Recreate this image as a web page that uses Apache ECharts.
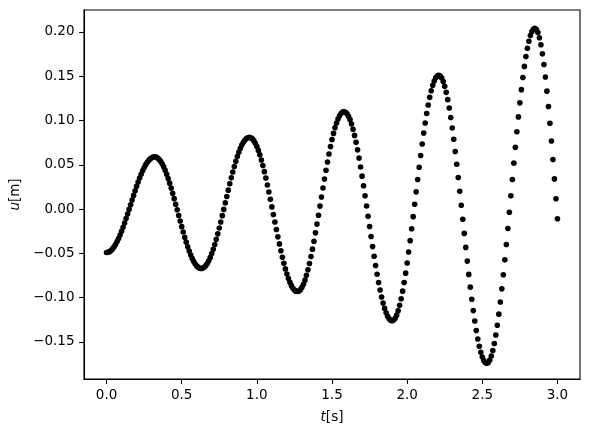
<!DOCTYPE html>
<html>
<head>
<meta charset="utf-8">
<script src="https://cdn.jsdelivr.net/npm/echarts@6/dist/echarts.min.js"></script>
<style>
html,body{margin:0;padding:0;background:#fff;}
#c{width:589px;height:435px;}
</style>
</head>
<body>
<div id="c"></div>
<script>
// time samples [s]
const t = [
0.00,0.01,0.02,0.03,0.04,0.05,0.06,0.07,0.08,0.09,
0.10,0.11,0.12,0.13,0.14,0.15,0.16,0.17,0.18,0.19,
0.20,0.21,0.22,0.23,0.24,0.25,0.26,0.27,0.28,0.29,
0.30,0.31,0.32,0.33,0.34,0.35,0.36,0.37,0.38,0.39,
0.40,0.41,0.42,0.43,0.44,0.45,0.46,0.47,0.48,0.49,
0.50,0.51,0.52,0.53,0.54,0.55,0.56,0.57,0.58,0.59,
0.60,0.61,0.62,0.63,0.64,0.65,0.66,0.67,0.68,0.69,
0.70,0.71,0.72,0.73,0.74,0.75,0.76,0.77,0.78,0.79,
0.80,0.81,0.82,0.83,0.84,0.85,0.86,0.87,0.88,0.89,
0.90,0.91,0.92,0.93,0.94,0.95,0.96,0.97,0.98,0.99,
1.00,1.01,1.02,1.03,1.04,1.05,1.06,1.07,1.08,1.09,
1.10,1.11,1.12,1.13,1.14,1.15,1.16,1.17,1.18,1.19,
1.20,1.21,1.22,1.23,1.24,1.25,1.26,1.27,1.28,1.29,
1.30,1.31,1.32,1.33,1.34,1.35,1.36,1.37,1.38,1.39,
1.40,1.41,1.42,1.43,1.44,1.45,1.46,1.47,1.48,1.49,
1.50,1.51,1.52,1.53,1.54,1.55,1.56,1.57,1.58,1.59,
1.60,1.61,1.62,1.63,1.64,1.65,1.66,1.67,1.68,1.69,
1.70,1.71,1.72,1.73,1.74,1.75,1.76,1.77,1.78,1.79,
1.80,1.81,1.82,1.83,1.84,1.85,1.86,1.87,1.88,1.89,
1.90,1.91,1.92,1.93,1.94,1.95,1.96,1.97,1.98,1.99,
2.00,2.01,2.02,2.03,2.04,2.05,2.06,2.07,2.08,2.09,
2.10,2.11,2.12,2.13,2.14,2.15,2.16,2.17,2.18,2.19,
2.20,2.21,2.22,2.23,2.24,2.25,2.26,2.27,2.28,2.29,
2.30,2.31,2.32,2.33,2.34,2.35,2.36,2.37,2.38,2.39,
2.40,2.41,2.42,2.43,2.44,2.45,2.46,2.47,2.48,2.49,
2.50,2.51,2.52,2.53,2.54,2.55,2.56,2.57,2.58,2.59,
2.60,2.61,2.62,2.63,2.64,2.65,2.66,2.67,2.68,2.69,
2.70,2.71,2.72,2.73,2.74,2.75,2.76,2.77,2.78,2.79,
2.80,2.81,2.82,2.83,2.84,2.85,2.86,2.87,2.88,2.89,
2.90,2.91,2.92,2.93,2.94,2.95,2.96,2.97,2.98,2.99,
3.00
];
// displacement u [m]
const u = [
-0.0490,-0.0487,-0.0480,-0.0467,-0.0449,-0.0426,-0.0399,-0.0367,-0.0332,-0.0293,
-0.0250,-0.0205,-0.0157,-0.0107,-0.0055,-0.0003,0.0050,0.0103,0.0155,0.0207,
0.0257,0.0305,0.0350,0.0393,0.0432,0.0467,0.0499,0.0526,0.0549,0.0567,
0.0580,0.0587,0.0590,0.0587,0.0577,0.0561,0.0539,0.0511,0.0477,0.0438,
0.0394,0.0346,0.0293,0.0237,0.0179,0.0118,0.0055,-0.0008,-0.0072,-0.0135,
-0.0198,-0.0259,-0.0317,-0.0373,-0.0426,-0.0474,-0.0518,-0.0557,-0.0591,-0.0619,
-0.0641,-0.0657,-0.0667,-0.0670,-0.0666,-0.0656,-0.0638,-0.0614,-0.0583,-0.0545,
-0.0502,-0.0453,-0.0399,-0.0341,-0.0279,-0.0213,-0.0145,-0.0074,-0.0003,0.0070,
0.0143,0.0214,0.0285,0.0353,0.0419,0.0481,0.0539,0.0593,0.0642,0.0685,
0.0723,0.0754,0.0778,0.0796,0.0806,0.0810,0.0806,0.0793,0.0773,0.0744,
0.0707,0.0663,0.0613,0.0555,0.0492,0.0423,0.0350,0.0273,0.0193,0.0110,
0.0025,-0.0060,-0.0145,-0.0230,-0.0313,-0.0393,-0.0470,-0.0543,-0.0612,-0.0675,
-0.0733,-0.0783,-0.0827,-0.0864,-0.0893,-0.0913,-0.0926,-0.0930,-0.0925,-0.0909,
-0.0883,-0.0848,-0.0802,-0.0748,-0.0685,-0.0614,-0.0536,-0.0452,-0.0362,-0.0268,
-0.0169,-0.0069,0.0034,0.0136,0.0239,0.0339,0.0438,0.0532,0.0622,0.0706,
0.0784,0.0855,0.0918,0.0972,0.1017,0.1053,0.1079,0.1095,0.1100,0.1094,
0.1077,0.1049,0.1010,0.0961,0.0901,0.0832,0.0754,0.0669,0.0576,0.0476,
0.0372,0.0263,0.0150,0.0036,-0.0080,-0.0196,-0.0310,-0.0423,-0.0532,-0.0636,
-0.0736,-0.0829,-0.0914,-0.0992,-0.1061,-0.1121,-0.1170,-0.1209,-0.1237,-0.1254,
-0.1260,-0.1253,-0.1232,-0.1197,-0.1148,-0.1086,-0.1012,-0.0926,-0.0829,-0.0723,
-0.0608,-0.0485,-0.0356,-0.0222,-0.0085,0.0055,0.0195,0.0335,0.0472,0.0606,
0.0735,0.0858,0.0973,0.1079,0.1176,0.1262,0.1336,0.1398,0.1447,0.1482,
0.1503,0.1510,0.1502,0.1479,0.1440,0.1386,0.1318,0.1236,0.1141,0.1034,
0.0916,0.0788,0.0651,0.0507,0.0357,0.0202,0.0044,-0.0115,-0.0274,-0.0432,
-0.0587,-0.0737,-0.0881,-0.1018,-0.1146,-0.1264,-0.1371,-0.1466,-0.1548,-0.1616,
-0.1670,-0.1709,-0.1732,-0.1740,-0.1731,-0.1704,-0.1659,-0.1596,-0.1517,-0.1422,
-0.1311,-0.1186,-0.1049,-0.0900,-0.0741,-0.0573,-0.0399,-0.0219,-0.0035,0.0150,
0.0335,0.0519,0.0699,0.0873,0.1041,0.1200,0.1349,0.1486,0.1611,0.1722,
0.1817,0.1896,0.1959,0.2004,0.2031,0.2040,0.2028,0.1993,0.1935,0.1855,
0.1754,0.1632,0.1491,0.1332,0.1158,0.0969,0.0769,0.0559,0.0341,0.0117,
-0.0109
];
const xTicks = [0.0, 0.5, 1.0, 1.5, 2.0, 2.5, 3.0];
const yTicks = [-0.15, -0.10, -0.05, 0.00, 0.05, 0.10, 0.15, 0.20];

const FONT = 'DejaVu Sans';
const FS = 13.5;
const points = t.map((tv, i) => [tv, u[i]]);

const chart = echarts.init(document.getElementById('c'), null, {renderer: 'canvas'});
chart.setOption({
  animation: false,
  backgroundColor: '#ffffff',
  grid: {
    left: 84, top: 10, right: 9, bottom: 56,
    show: true, borderColor: '#000', borderWidth: 1.1, backgroundColor: 'transparent'
  },
  xAxis: {
    type: 'value',
    min: -0.15, max: 3.15,
    name: '{i|t}[s]',
    nameLocation: 'middle',
    nameGap: 31,
    nameTextStyle: {
      fontFamily: FONT, fontSize: FS, color: '#000',
      rich: {i: {fontStyle: 'italic', fontFamily: FONT, fontSize: FS, color: '#000'}}
    },
    axisLine: {show: true, onZero: false, lineStyle: {color: '#000', width: 1.1}},
    axisTick: {show: true, inside: false, length: 4.9, lineStyle: {color: '#000', width: 1.1}, customValues: xTicks},
    axisLabel: {
      show: true, margin: 9, color: '#000', fontFamily: FONT, fontSize: FS,
      customValues: xTicks,
      formatter: v => v.toFixed(1)
    },
    splitLine: {show: false}
  },
  yAxis: {
    type: 'value',
    min: -0.1918, max: 0.2248,
    name: '{i|u}[m]',
    nameLocation: 'middle',
    nameRotate: 90,
    nameGap: 60,
    nameTextStyle: {
      fontFamily: FONT, fontSize: FS, color: '#000',
      rich: {i: {fontStyle: 'italic', fontFamily: FONT, fontSize: FS, color: '#000'}}
    },
    axisLine: {show: true, onZero: false, lineStyle: {color: '#000', width: 1.1}},
    axisTick: {show: true, inside: false, length: 4.9, lineStyle: {color: '#000', width: 1.1}, customValues: yTicks},
    axisLabel: {
      show: true, margin: 9.5, color: '#000', fontFamily: FONT, fontSize: FS,
      customValues: yTicks,
      formatter: v => (v < 0 ? '\u2212' : '') + Math.abs(v).toFixed(2)
    },
    splitLine: {show: false}
  },
  series: [{
    type: 'scatter',
    data: points,
    symbol: 'circle',
    symbolSize: 5.6,
    itemStyle: {color: '#000', opacity: 1},
    large: false
  }]
});
</script>
</body>
</html>
